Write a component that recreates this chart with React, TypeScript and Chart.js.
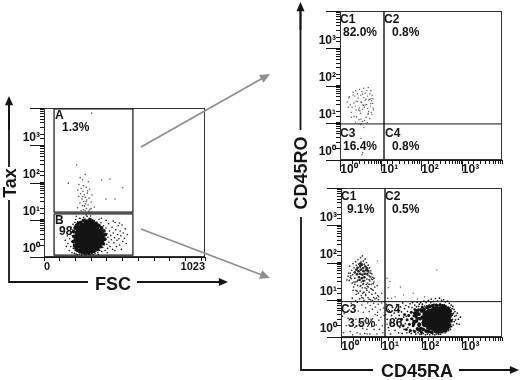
import React, { useEffect, useRef } from "react";
import { Chart, registerables } from "chart.js";

Chart.register(...registerables);

// ---------- data ----------
const logTicks = [1, 10, 100, 1000, 10000];
const logTickLabels: Record<number, string> = { 1: "10⁰", 10: "10¹", 100: "10²", 1000: "10³" };
const fscTicks = [0, 100, 200, 300, 400, 500, 600, 700, 800, 900, 1000, 1023];
const fscTickLabels: Record<number, string> = { 0: "0", 1023: "1023" };

const gateA = [[64, 9400], [565, 9400], [565, 16], [64, 16], [64, 9400]];
const gateB = [[64, 14.3], [565, 14.3], [565, 1.12], [64, 1.12], [64, 14.3]];
const quadTop = [[12.2, 1], [12.2, 10000]];
const quadTopH = [[1, 9.3], [10000, 9.3]];
const quadBottom = [[12.4, 1], [12.4, 10000]];
const quadBottomH = [[1, 8.9], [10000, 8.9]];

const gateAEvents = [
  [303, 7300], [207, 295], [366, 117], [419, 124], [500, 72], [394, 36], [451, 36], [154, 96], [230, 135], [262, 165],
  [245, 118], [282, 105], [222, 88], [251, 82], [236, 70], [268, 74], [290, 66], [214, 62], [248, 58], [275, 52],
  [232, 50], [256, 47], [305, 46], [221, 42], [262, 40], [287, 38], [241, 36], [272, 34], [252, 31], [300, 30],
  [228, 28], [264, 27], [280, 25], [244, 24], [258, 23], [320, 22], [213, 21], [270, 20], [292, 19], [250, 18.5],
  [262, 18], [236, 17.5], [285, 17], [256, 24], [268, 31], [246, 42], [277, 60], [300, 20],
];

const gateBCore = [
  [222, 2.3], [220, 3.1], [224, 4.1], [230, 5.4], [246, 1.8], [244, 2.5], [248, 3.4], [246, 4.7], [250, 6.2], [266, 1.6],
  [274, 2], [270, 2.8], [276, 3.8], [272, 5.2], [274, 7], [300, 1.7], [304, 2.3], [300, 3.2], [306, 4.4], [302, 5.9],
  [296, 7.4], [330, 2], [334, 2.7], [332, 3.6], [328, 4.8], [324, 6], [354, 2.7], [358, 3.4], [352, 4.3],
];
const gateBRim = [
  [186, 2.6], [190, 3.6], [188, 4.8], [194, 2], [198, 6], [204, 1.7], [206, 7], [214, 1.5], [218, 8], [228, 1.4],
  [232, 8.4], [244, 1.35], [252, 9.6], [262, 1.3], [272, 9.2], [284, 1.28], [292, 10], [304, 1.35], [312, 9], [318, 1.45],
  [330, 8], [342, 1.6], [348, 7], [360, 1.9], [366, 6], [376, 2.3], [380, 5], [386, 3], [390, 4], [372, 2.8],
  [212, 6.4], [340, 6.4], [240, 7.6], [300, 8.4], [360, 5.2], [200, 3], [205, 4.6], [226, 1.9], [290, 1.45], [335, 1.8],
];
const gateBEvents = [
  [135, 2.8], [142, 1.9], [148, 3.7], [152, 2.3], [156, 5.1], [160, 1.5], [163, 3.1], [168, 4.4], [170, 1.9], [172, 6.3],
  [175, 2.6], [178, 1.3], [180, 3.7], [182, 5.3], [184, 7.5], [186, 1.7], [188, 2.2], [190, 4.6], [193, 1.25], [195, 6.6],
  [196, 8.4], [198, 1.5], [200, 2.9], [202, 10.2], [204, 1.2], [206, 7.4], [208, 1.8], [212, 1.15], [214, 9], [216, 6.9],
  [218, 1.4], [222, 8.6], [226, 1.2], [230, 10.8], [234, 1.3], [236, 8.9], [240, 1.14], [244, 9.8], [248, 1.25], [252, 11.7],
  [256, 1.16], [262, 10.5], [266, 1.2], [270, 1.13], [274, 12.3], [278, 9.7], [282, 1.22], [288, 10.9], [292, 1.16], [296, 12.6],
  [300, 1.2], [306, 10], [312, 1.16], [318, 9.3], [324, 1.24], [330, 1.4], [336, 8.6], [342, 1.3], [346, 7.4], [350, 10.3],
  [354, 1.5], [358, 6.6], [362, 8.3], [366, 1.4], [370, 5.7], [374, 1.8], [378, 6.9], [382, 2.1], [384, 4.9], [388, 1.5],
  [392, 3], [394, 6], [398, 2.2], [400, 4.2], [404, 1.7], [406, 3.4], [410, 7.8], [412, 2.5], [416, 5], [420, 1.9],
  [424, 3.8], [428, 2.9], [432, 6.3], [436, 1.6], [440, 4.4], [444, 2.4], [448, 3.3], [452, 8.4], [456, 5.4], [460, 1.9],
  [464, 2.8], [468, 4], [472, 6.9], [476, 3.1], [480, 2.1], [484, 5], [488, 3.7], [492, 1.6], [496, 7.2], [500, 2.6],
  [504, 4.4], [510, 3.2], [516, 5.7], [522, 2.3], [530, 4], [440, 9.2], [395, 9.6], [480, 8.2], [365, 11], [345, 1.16],
  [402, 1.3], [450, 1.5], [225, 11], [205, 12.4], [268, 13.4],
];

const topClusterEvents = [
  [1.5, 36], [2.9, 22], [1.65, 47], [4.4, 14], [1.8, 30], [3.6, 58], [1.9, 19], [5.4, 42], [2, 26], [2.1, 66],
  [3.3, 12.5], [2.2, 34], [6.1, 17], [2.3, 52], [4.8, 24], [2.45, 72], [2.5, 38], [2.55, 14.5], [3.8, 29], [2.7, 60],
  [5.1, 20], [2.8, 46], [6.4, 33], [2.95, 12], [3, 25], [3.05, 78], [4.2, 40], [3.2, 18], [3.25, 55], [5.7, 28],
  [3.4, 35], [1.9, 14], [3.5, 68], [2.5, 22], [5.8, 44], [3.7, 30], [4.9, 17], [3.85, 84], [1.7, 50], [4, 26],
  [4.05, 11.5], [2.7, 37], [4.2, 62], [3.1, 21], [4.4, 43], [2.2, 15], [4.55, 31], [4.6, 74], [6.6, 25], [4.8, 52],
  [3.3, 36], [5, 18], [5, 88], [5.1, 41], [2.4, 28], [5.4, 13], [5.45, 60], [3.6, 23], [3.9, 47], [5.75, 33],
  [5.8, 72], [5.9, 19], [6, 39], [1.6, 26], [6.25, 55], [4.2, 30], [6.5, 44], [6.7, 22], [2.1, 56], [2.4, 10.4],
  [3.6, 10.8], [4.7, 10.2], [3.2, 9], [3.9, 7.4], [3.3, 3.8], [3.6, 1.6], [3.5, 1.4],
];

const c1Core = [
  [2.6, 72], [3, 80], [3.5, 70], [4, 78], [2.7, 58], [3.1, 64], [3.6, 58], [4.2, 62], [2.5, 48], [3, 50],
  [3.4, 47], [3.9, 50], [4.5, 50], [2.8, 40], [3.3, 38], [3.8, 40], [2.4, 64], [4.4, 70], [3.3, 88], [2.9, 34],
  [3.6, 32], [3, 94], [2.2, 54], [4.7, 60],
];
const c1Events = [
  [1.4, 34], [3.4, 21], [1.55, 52], [2.4, 14], [1.65, 80], [1.7, 40], [4.6, 28], [3, 17], [1.85, 62], [1.9, 11],
  [1.95, 47], [5.2, 32], [2, 94], [2.05, 22], [2.1, 72], [4.1, 14], [2.2, 38], [2.2, 55], [5.6, 26], [2.3, 105],
  [2.35, 18], [5, 44], [2.4, 84], [3.3, 11.5], [2.5, 31], [2.55, 66], [4.8, 22], [2.6, 50], [2.65, 120], [1.8, 37],
  [2.7, 15], [2.75, 90], [6.3, 27], [2.85, 58], [1.5, 43], [2.9, 10.5], [5.9, 19], [3, 74], [1.6, 33], [3.05, 135],
  [3.1, 24], [3.15, 102], [5.3, 52], [3.2, 13], [2.1, 30], [3.3, 84], [4.3, 20], [3.4, 150], [5.5, 41], [3.5, 26],
  [3.5, 72], [3.55, 11], [3.6, 110], [6.1, 35], [3.7, 16], [3.75, 60], [3.8, 90], [1.9, 28], [1.75, 44], [3.95, 21],
  [4, 125], [2.6, 33], [4.1, 13], [4.15, 78], [1.7, 52], [4.25, 26], [4.3, 100], [6.6, 38], [4.4, 18], [4.5, 66],
  [2.3, 30], [4.6, 46], [4.7, 11.5], [4.75, 85], [3, 23], [4.9, 56], [4.95, 35], [5, 16], [5.1, 72], [5.2, 42],
  [3.6, 27], [5.4, 10], [5.45, 60], [5.55, 20], [2.9, 34], [5.8, 50], [5.9, 14], [2.2, 26], [6.2, 40], [6.3, 18],
  [6.5, 11.5], [6.6, 30], [6.9, 22], [7.2, 15], [7.6, 11], [7.9, 24], [8.2, 13], [8.5, 10], [5, 10.3], [6, 9.5],
  [3.7, 9.6], [2.3, 9.4], [2, 18], [2.6, 24], [3.2, 30], [3.9, 33], [4.4, 36], [5, 26], [5.7, 36], [2.5, 17], [3.5, 15], [4.5, 23],
];
const c3Events = [
  [3.1, 2.3], [1.15, 1.3], [1.2, 4.2], [5.3, 7], [1.35, 2], [4.45, 1.2], [1.5, 3.2], [1.6, 5.4], [6.65, 1.6], [1.8, 8],
  [1.85, 2.6], [1.95, 1.15], [7, 4], [2.15, 6.5], [2.2, 1.8], [2.35, 3], [2.5, 1.3], [2.55, 8.5], [2.7, 5], [2.85, 2.2],
  [3, 1.2], [1.1, 3.6], [3.3, 7.2], [3.45, 1.7], [3.6, 4.6], [3.75, 2.7], [3.9, 1.25], [4.1, 6.1], [4.25, 3.3], [4.4, 1.6],
  [4.6, 8.2], [4.8, 2.2], [5, 4.8], [5.2, 1.2], [1.35, 7], [5.55, 3], [5.8, 1.9], [6, 5.6], [6.2, 2.6], [6.5, 8],
  [1.7, 1.4], [8, 3.8], [7.2, 6.4], [7.5, 2.1], [7.8, 1.2], [8.1, 4.6], [8.4, 7.6], [8.7, 2.8], [9, 1.6], [9.4, 5.4],
  [9.8, 3.4], [10.2, 8.2], [10.6, 2], [11, 1.3], [11.4, 6], [11.8, 3.8], [12, 8.8], [7, 10.5], [8.6, 12], [10.3, 15],
  [13, 4], [13.5, 7.5], [14, 2.2], [14.5, 11], [15, 5.5], [15.5, 1.5],
];
const c2Events = [[240, 63], [16.5, 31], [14, 38], [30, 22], [62, 15], [22, 12], [15, 21], [8, 110], [120, 12], [18, 11], [36, 13.5], [80, 10.5]];
const c4Core = [
  [125, 2.3], [128, 3.1], [132, 4.1], [160, 1.9], [165, 2.6], [170, 3.5], [162, 4.6], [210, 1.8], [215, 2.4], [205, 3.2],
  [220, 4.3], [212, 5.2], [270, 1.8], [275, 2.4], [265, 3.2], [280, 4.2], [272, 5.2], [335, 1.9], [345, 2.5], [330, 3.3],
  [350, 4.3], [335, 5.1], [420, 2.2], [435, 3], [410, 3.8], [430, 4.6],
];
const c4Rim = [
  [88, 2.2], [92, 3.1], [86, 4.1], [96, 1.7], [100, 5], [110, 1.6], [115, 5.6], [130, 1.45], [138, 6.2], [150, 1.4],
  [160, 6.6], [180, 1.35], [190, 6.9], [225, 1.4], [235, 7], [260, 1.36], [290, 7.2], [310, 1.4], [340, 6.8], [370, 1.5],
  [385, 6.4], [440, 1.7], [450, 5.8], [500, 2.1], [520, 5], [540, 2.7], [555, 4], [505, 3.5], [75, 2.7], [72, 3.8],
  [82, 1.6], [78, 5], [64, 2.3], [68, 4.4], [105, 3.4], [112, 2.5], [118, 4.6], [480, 1.9], [405, 1.6], [470, 5.4],
];
const c4Mid = [
  [32, 3], [35, 2], [38, 4], [42, 1.6], [44, 2.9], [48, 3.8], [50, 2.2], [53, 1.5], [56, 4.6], [58, 3.1],
  [62, 2], [65, 3.7], [68, 1.4], [70, 5.4], [72, 2.6], [76, 4.2], [78, 1.7], [80, 3.2], [84, 5.4], [86, 2], [64, 2.7], [74, 3.4], [82, 4.2], [90, 1.5], [96, 5.5], [100, 1.35], [104, 6.4],
];
const c4Events = [
  [14, 3], [15, 1.8], [16, 5], [16.5, 2.4], [17, 1.2], [18, 3.8], [19, 6.2], [20, 2], [21, 4.4], [22, 1.5],
  [23, 3.2], [24, 7.4], [25, 2.4], [26, 5.4], [27, 1.3], [28, 3.8], [29, 1.8], [30, 6.4], [31, 2.7], [32, 4.7],
  [33, 1.25], [34, 8.2], [36, 3.4], [37, 1.6], [38, 5.8], [40, 2.3], [41, 7], [42, 3.6], [43, 1.3], [45, 4.9],
  [46, 1.8], [48, 6.4], [50, 1.35], [52, 7.8], [54, 3.1], [56, 1.25], [58, 6.2], [60, 8.4], [63, 1.5], [66, 5.6],
  [68, 7.2], [72, 1.2], [75, 6.5], [78, 8.6], [82, 1.3], [85, 6.6], [88, 7.6], [92, 1.2], [95, 8.4], [100, 1.2],
  [105, 7.6], [110, 1.25], [115, 9.2], [120, 6.8], [125, 1.15], [130, 8.4], [135, 6.9], [140, 1.2], [148, 9.6], [155, 7.2],
  [160, 1.15], [170, 8.4], [175, 10.4], [180, 7], [190, 1.2], [198, 9], [205, 7.6], [215, 1.15], [222, 10.8], [230, 7.4],
  [240, 1.2], [250, 9.4], [262, 7], [270, 1.18], [280, 11], [290, 7.6], [300, 1.2], [315, 9.6], [330, 7.2], [340, 1.3],
  [355, 10], [370, 7.4], [385, 1.3], [395, 8.8], [410, 6.8], [420, 1.4], [440, 9.2], [455, 6.4], [470, 1.5], [490, 8],
  [510, 6.2], [525, 1.6], [545, 7.2], [560, 1.9], [575, 5.8], [590, 3], [600, 6.6], [610, 2.1], [625, 4.4], [640, 5.5],
  [650, 2.6], [665, 3.6], [680, 4.8], [700, 2.9], [725, 3.8], [750, 2.3], [780, 4.4], [820, 3], [860, 2.2], [930, 3.4],
];

const quadrantTop = ["C1", "82.0%", "C2", "0.8%", "C3", "16.4%", "C4", "0.8%"];
const quadrantBottom = ["C1", "9.1%", "C2", "0.5%", "C3", "3.5%", "C4", "86"];
const gateText = ["A", "1.3%", "B", "98"];

// ---------- layout ----------
const W = 520;
const H = 380;
const FONT = '"Liberation Sans", Arial, sans-serif';
const INK = "#141414";
const toXY = (rows: number[][]) => rows.map(([x, y]) => ({ x, y }));

const dots = (rows: number[][], radius: number, color = INK) => ({
  type: "scatter" as const,
  data: toXY(rows),
  pointRadius: radius,
  pointHoverRadius: radius,
  pointBorderWidth: 0,
  pointBackgroundColor: color,
  showLine: false,
});
const rule = (rows: number[][], width: number) => ({
  type: "scatter" as const,
  data: toXY(rows),
  showLine: true,
  pointRadius: 0,
  borderColor: INK,
  borderWidth: width,
});

function arrow(ctx: CanvasRenderingContext2D, x0: number, y0: number, x1: number, y1: number, color: string, lw: number, head: number) {
  const a = Math.atan2(y1 - y0, x1 - x0);
  ctx.save();
  ctx.strokeStyle = color;
  ctx.fillStyle = color;
  ctx.lineWidth = lw;
  ctx.beginPath();
  ctx.moveTo(x0, y0);
  ctx.lineTo(x1 - Math.cos(a) * head * 0.7, y1 - Math.sin(a) * head * 0.7);
  ctx.stroke();
  ctx.beginPath();
  ctx.moveTo(x1, y1);
  ctx.lineTo(x1 - head * Math.cos(a - 0.42), y1 - head * Math.sin(a - 0.42));
  ctx.lineTo(x1 - head * Math.cos(a + 0.42), y1 - head * Math.sin(a + 0.42));
  ctx.closePath();
  ctx.fill();
  ctx.restore();
}
function line(ctx: CanvasRenderingContext2D, pts: number[][], lw = 1.8) {
  ctx.save();
  ctx.strokeStyle = INK;
  ctx.lineWidth = lw;
  ctx.beginPath();
  pts.forEach(([x, y], i) => (i ? ctx.lineTo(x, y) : ctx.moveTo(x, y)));
  ctx.stroke();
  ctx.restore();
}
function title(ctx: CanvasRenderingContext2D, text: string, x: number, y: number, rotate = false) {
  ctx.save();
  ctx.fillStyle = INK;
  ctx.font = `bold 18px ${FONT}`;
  ctx.textAlign = "center";
  ctx.textBaseline = "alphabetic";
  ctx.translate(x, y);
  if (rotate) ctx.rotate(-Math.PI / 2);
  ctx.fillText(text, 0, 0);
  ctx.restore();
}

type Panel = {
  area: { left: number; top: number; right: number; bottom: number };
  xOpts: any;
  xMajor: number[];
  xMajorLen: number;
  datasets: any[];
  text: string[];
  textPos: number[][];
  decorate?: (ctx: CanvasRenderingContext2D) => void;
};

function majors(ctx: CanvasRenderingContext2D, chart: any, p: Panel) {
  const { x, y } = chart.scales;
  ctx.save();
  ctx.strokeStyle = INK;
  ctx.lineWidth = 1;
  ctx.beginPath();
  logTicks.forEach((t) => {
    const py = Math.round(y.getPixelForValue(t)) + 0.5;
    ctx.moveTo(p.area.left - 14, py);
    ctx.lineTo(p.area.left, py);
  });
  p.xMajor.forEach((t) => {
    const px = Math.round(x.getPixelForValue(t)) + 0.5;
    ctx.moveTo(px, p.area.bottom);
    ctx.lineTo(px, p.area.bottom + p.xMajorLen);
  });
  ctx.stroke();
  ctx.restore();
}

const logX = {
  type: "logarithmic",
  min: 1,
  max: 10000,
  ticks: {
    autoSkip: false,
    maxRotation: 0,
    minRotation: 0,
    labelOffset: 9,
    padding: -2,
    color: INK,
    font: { family: FONT, size: 12, weight: "bold" },
    callback: (v: number) => logTickLabels[v] ?? "",
  },
};
const linX = {
  type: "linear",
  min: 0,
  max: 1023,
  afterBuildTicks: (s: any) => {
    s.ticks = fscTicks.map((value) => ({ value }));
  },
  ticks: {
    autoSkip: false,
    maxRotation: 0,
    minRotation: 0,
    align: "inner",
    padding: -1,
    color: INK,
    font: { family: FONT, size: 11, weight: "bold" },
    callback: (v: number) => fscTickLabels[v] ?? "",
  },
};

const panels: Panel[] = [
  {
    area: { left: 44, top: 108, right: 205, bottom: 257 },
    xOpts: linX,
    xMajor: [],
    xMajorLen: 0,
    datasets: [
      rule(gateA, 1.2),
      rule(gateB, 1.2),
      dots(gateAEvents, 0.8, "#555"),
      dots(gateBEvents, 0.8),
      dots(gateBRim, 1.9),
      dots(gateBCore, 4.5),
    ],
    text: gateText,
    textPos: [[55, 119], [62, 131], [55, 224], [59, 235]],
    decorate: (ctx) => {
      arrow(ctx, 141, 147, 270, 74, "#8e8e8e", 1.8, 11);
      arrow(ctx, 141, 229, 270, 278, "#8e8e8e", 1.8, 11);
      line(ctx, [[9, 200], [9, 282], [88, 282]]);
      line(ctx, [[9, 167], [9, 104]]);
      arrow(ctx, 137, 282, 228, 282, INK, 1.8, 10);
      arrow(ctx, 9, 130, 9, 96, INK, 1.8, 10);
      title(ctx, "Tax", 16, 183, true);
      title(ctx, "FSC", 113, 290);
    },
  },
  {
    area: { left: 340, top: 11, right: 502, bottom: 160 },
    xOpts: logX,
    xMajor: logTicks.slice(0, 4),
    xMajorLen: 11,
    datasets: [rule(quadTop, 1.4), rule(quadTopH, 1), dots(topClusterEvents, 0.7, "#555")],
    text: quadrantTop,
    textPos: [[340, 23], [343, 36], [384, 23], [392, 36], [340, 137], [343, 150], [385, 137], [392, 150]],
    decorate: (ctx) => {
      line(ctx, [[300.5, 130], [300.5, 10]]);
      arrow(ctx, 300.5, 30, 300.5, 2, INK, 1.8, 10);
      title(ctx, "CD45RO", 307, 173, true);
    },
  },
  {
    area: { left: 341, top: 188, right: 502, bottom: 337 },
    xOpts: logX,
    xMajor: logTicks.slice(0, 4),
    xMajorLen: 11,
    datasets: [
      rule(quadBottom, 1.4),
      rule(quadBottomH, 1),
      dots(c2Events, 0.75, "#666"),
      dots(c3Events, 0.8, "#333"),
      dots(c1Events, 0.85, "#333"),
      dots(c1Core, 1.3, "#222"),
      dots(c4Events, 0.85),
      dots(c4Mid, 1.5),
      dots(c4Rim, 1.9),
      dots(c4Core, 3.8),
    ],
    text: quadrantBottom,
    textPos: [[341, 200], [347, 213], [385, 200], [392, 213], [341, 313], [348, 327], [385, 313], [389, 327]],
    decorate: (ctx) => {
      line(ctx, [[301, 217], [301, 370], [373, 370]]);
      arrow(ctx, 459, 370, 519, 370, INK, 1.8, 10);
      title(ctx, "CD45RA", 417, 377);
    },
  },
];

function buildChart(canvas: HTMLCanvasElement, p: Panel) {
  const yW = 30;
  const xH = 30;
  const { left, top, right, bottom } = p.area;
  return new Chart(canvas, {
    data: { datasets: p.datasets },
    options: {
      responsive: false,
      animation: false,
      events: [],
      layout: {
        autoPadding: false,
        padding: { left: left - yW, top, right: W - right, bottom: H - bottom - xH },
      },
      plugins: { legend: { display: false }, tooltip: { enabled: false }, title: { display: false } },
      scales: {
        x: {
          ...p.xOpts,
          position: "bottom",
          border: { display: true, color: INK, width: 1 },
          grid: { drawOnChartArea: false, drawTicks: true, tickLength: 4, color: INK, lineWidth: 1 },
          afterFit: (s: any) => {
            s.height = xH;
          },
        },
        y: {
          type: "logarithmic",
          min: 1,
          max: 10000,
          position: "left",
          border: { display: true, color: INK, width: 1 },
          grid: { drawOnChartArea: false, drawTicks: true, tickLength: 4, color: INK, lineWidth: 1 },
          ticks: {
            autoSkip: false,
            labelOffset: -8,
            padding: 0,
            color: INK,
            font: { family: FONT, size: 12, weight: "bold" },
            callback: (v: number) => logTickLabels[v] ?? "",
          },
          afterFit: (s: any) => {
            s.width = yW;
          },
        },
      },
    },
    plugins: [
      {
        id: "panelDress",
        beforeDatasetsDraw(chart: any) {
          const ctx = chart.ctx;
          const a = chart.chartArea;
          ctx.save();
          ctx.strokeStyle = "#333";
          ctx.lineWidth = 1;
          ctx.strokeRect(a.left + 0.5, a.top + 0.5, a.right - a.left - 1, a.bottom - a.top - 1);
          ctx.restore();
          majors(ctx, chart, p);
          ctx.save();
          ctx.fillStyle = INK;
          ctx.font = `bold 12px ${FONT}`;
          ctx.textAlign = "left";
          ctx.textBaseline = "alphabetic";
          p.text.forEach((t, i) => ctx.fillText(t, p.textPos[i][0], p.textPos[i][1]));
          ctx.restore();
        },
        afterDraw(chart: any) {
          p.decorate?.(chart.ctx);
        },
      },
    ],
  } as any);
}

export default function App() {
  const refs = useRef<(HTMLCanvasElement | null)[]>([]);
  useEffect(() => {
    const charts = panels.map((p, i) => buildChart(refs.current[i]!, p));
    return () => charts.forEach((c) => c.destroy());
  }, []);
  return (
    <div style={{ position: "absolute", left: 0, top: 0, width: W, height: H, background: "#fff", overflow: "hidden" }}>
      {panels.map((_, i) => (
        <canvas
          key={i}
          ref={(el) => {
            refs.current[i] = el;
          }}
          width={W}
          height={H}
          style={{ position: "absolute", left: 0, top: 0, width: W, height: H, display: "block", filter: "blur(0.35px)" }}
        />
      ))}
    </div>
  );
}
